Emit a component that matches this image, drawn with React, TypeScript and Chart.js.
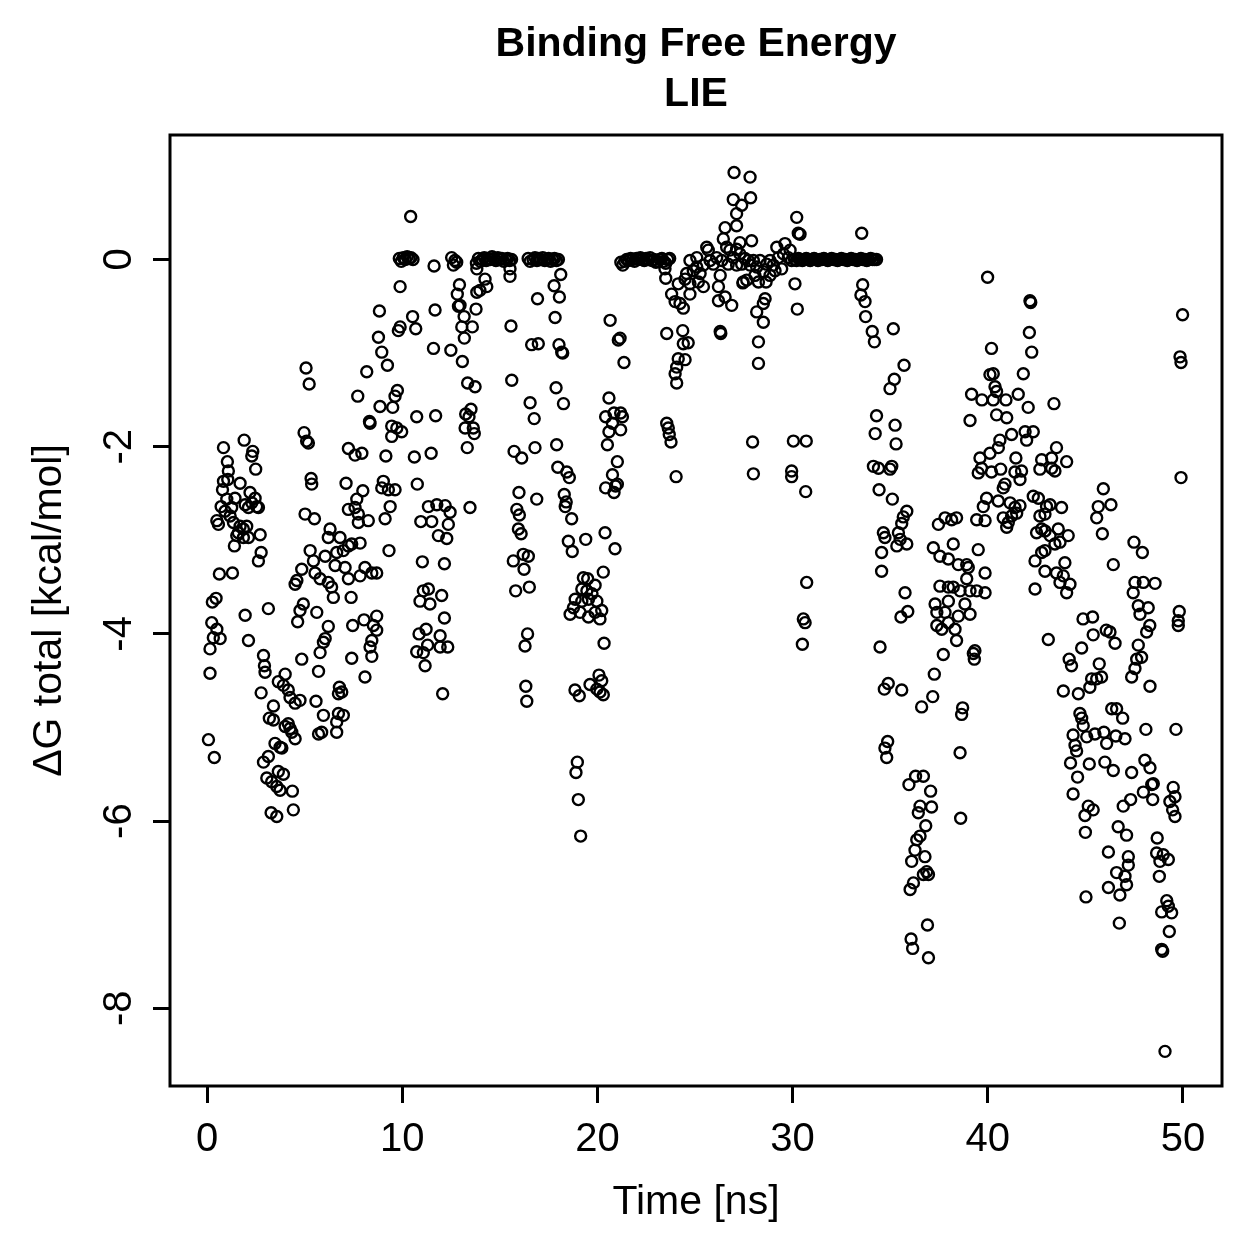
import React, { useEffect, useRef } from "react";
import { Chart, registerables } from "chart.js";

Chart.register(...registerables);

const FAMILY = "'Liberation Sans', Arial, Helvetica, sans-serif";

const titleLines = ["Binding Free Energy", "LIE"];
const xTitle = "Time [ns]";
const yTitle = "ΔG total [kcal/mol]";
const xTickValues = [0, 10, 20, 30, 40, 50];
const yTickValues = [0, -2, -4, -6, -8];
const yTickLabels = ["0", "-2", "-4", "-6", "-8"];

// [time (ns), ΔG total (kcal/mol)]
const seg0to10: [number, number][] = [
  [0.07, -5.13], [0.15, -4.42], [0.15, -4.16], [0.37, -5.32], [0.24, -3.88], [0.5, -3.95], [0.32, -4.04],
  [0.67, -4.05], [0.46, -3.62], [0.27, -3.66], [0.63, -3.36], [1.3, -3.35], [0.84, -2.01], [1.9, -1.93],
  [2.34, -2.05], [2.29, -2.1], [2.49, -2.24], [1.04, -2.16], [1.09, -2.26], [0.84, -2.37], [1.06, -2.35],
  [1.69, -2.39], [0.79, -2.46], [2.2, -2.49], [2.46, -2.55], [2.54, -2.64], [2.29, -2.6], [1.95, -2.62],
  [2.12, -2.65], [2.63, -2.65], [1.01, -2.56], [1.43, -2.55], [0.72, -2.64], [1.26, -2.65], [0.92, -2.69],
  [0.5, -2.79], [0.58, -2.83], [1.18, -2.74], [1.35, -2.81], [1.69, -2.85], [1.6, -2.92], [1.86, -2.88],
  [2.03, -2.85], [1.52, -2.95], [1.86, -2.97], [2.12, -2.97], [2.72, -2.94], [1.4, -3.06], [2.77, -3.13],
  [2.63, -3.22], [1.95, -3.8], [2.12, -4.07], [3.14, -3.73], [2.89, -4.23], [2.94, -4.34], [2.97, -4.41],
  [2.77, -4.63], [3.4, -4.77], [3.19, -4.9], [3.4, -4.92], [4.0, -4.43], [3.65, -4.51], [3.91, -4.55],
  [4.16, -4.6], [4.25, -4.68], [4.51, -4.74], [4.76, -4.71], [4.0, -4.99], [4.25, -5.01], [4.16, -4.96],
  [4.34, -5.05], [4.51, -5.12], [3.48, -5.17], [3.74, -5.21], [3.83, -5.22], [3.14, -5.31], [2.89, -5.37],
  [3.65, -5.47], [3.91, -5.5], [3.06, -5.54], [3.31, -5.58], [3.57, -5.63], [3.74, -5.67], [4.37, -5.68],
  [3.28, -5.91], [3.57, -5.95], [4.42, -5.88], [4.97, -1.85], [5.1, -1.94], [5.19, -1.96], [8.35, -1.75],
  [9.46, -1.78], [9.72, -1.8], [9.97, -1.84], [9.46, -1.89], [7.24, -2.02], [7.58, -2.09], [7.93, -2.07],
  [9.16, -2.1], [5.33, -2.34], [5.36, -2.4], [7.12, -2.39], [7.98, -2.47], [7.67, -2.56], [7.24, -2.67],
  [7.58, -2.65], [7.75, -2.72], [7.75, -2.81], [8.26, -2.79], [9.03, -2.37], [8.95, -2.44], [9.29, -2.46],
  [9.63, -2.46], [9.38, -2.64], [9.12, -2.77], [5.02, -2.72], [5.5, -2.77], [6.3, -2.88], [6.21, -2.97],
  [6.81, -2.97], [7.24, -3.06], [6.98, -3.11], [6.64, -3.13], [7.84, -3.03], [7.41, -3.04], [9.32, -3.11],
  [5.28, -3.11], [5.45, -3.22], [6.05, -3.17], [6.56, -3.27], [7.07, -3.29], [4.85, -3.31], [5.53, -3.35],
  [5.79, -3.41], [7.84, -3.38], [8.09, -3.29], [8.44, -3.35], [8.69, -3.35], [7.24, -3.41], [4.6, -3.43],
  [4.51, -3.47], [6.21, -3.45], [6.38, -3.5], [6.47, -3.61], [7.38, -3.61], [4.93, -3.68], [4.76, -3.75],
  [5.62, -3.77], [4.64, -3.87], [6.21, -3.92], [6.05, -4.05], [5.96, -4.09], [5.79, -4.2], [7.46, -3.91],
  [8.04, -3.85], [8.69, -3.81], [8.52, -3.91], [8.69, -3.96], [8.44, -4.07], [8.35, -4.14], [8.44, -4.24],
  [7.41, -4.26], [4.85, -4.27], [5.71, -4.4], [8.09, -4.46], [6.78, -4.57], [6.9, -4.62], [6.73, -4.64],
  [5.58, -4.72], [5.96, -4.87], [6.73, -4.85], [6.98, -4.87], [6.64, -4.94], [6.64, -5.05], [5.71, -5.07],
  [5.87, -5.05], [9.89, -0.29], [8.83, -0.55], [9.89, -0.72], [9.8, -0.76], [8.78, -0.83], [8.95, -0.99],
  [9.24, -1.13], [8.18, -1.2], [5.07, -1.16], [5.23, -1.33], [7.72, -1.46], [9.75, -1.4], [9.63, -1.46],
  [8.86, -1.57], [9.51, -1.58], [8.32, -1.73],
];

const seg10to20: [number, number][] = [
  [10.53, -0.61], [10.69, -0.74], [10.43, 0.46],
  [9.85, 0.01], [9.95, -0.02], [10.05, 0.02], [10.15, 0.0], [10.25, 0.03], [10.35, 0.01], [10.45, 0.02], [10.55, 0.0],
  [11.63, -0.07], [12.53, 0.02], [12.62, -0.06], [12.7, -0.01], [12.79, -0.03],
  [13.8, -0.04], [13.9, 0.01], [14.0, -0.02], [14.1, 0.0], [14.2, 0.02], [14.3, -0.01], [14.4, 0.01], [14.5, 0.0],
  [14.6, 0.03], [14.7, 0.01], [14.8, -0.01], [14.9, 0.02], [15.0, 0.0], [15.1, 0.01], [15.2, -0.02], [15.3, 0.0],
  [15.4, 0.01], [15.5, -0.01], [15.6, 0.0],
  [13.82, -0.1], [14.24, -0.21], [13.98, -0.33], [14.33, -0.29], [13.82, -0.35], [15.52, -0.1], [15.52, -0.18],
  [12.93, -0.27], [12.82, -0.37], [12.96, -0.49], [12.88, -0.5], [13.17, -0.61], [13.05, -0.72], [13.59, -0.72],
  [13.18, -0.84], [13.78, -0.53],
  [16.45, 0.01], [16.55, -0.02], [16.7, 0.0], [16.8, 0.02], [16.9, -0.01], [17.0, 0.01], [17.1, 0.0], [17.2, 0.02],
  [17.3, -0.01], [17.4, 0.0], [17.5, 0.01], [17.6, -0.02], [17.7, 0.0], [17.8, 0.01], [17.9, -0.01], [18.0, 0.0],
  [16.93, -0.42], [18.12, -0.16], [17.78, -0.28], [18.05, -0.4], [17.83, -0.62], [11.68, -0.54], [11.6, -0.95],
  [12.49, -0.97], [13.08, -1.09], [15.57, -0.71], [16.63, -0.91], [16.97, -0.9], [18.03, -0.91], [18.17, -0.99],
  [18.22, -1.0], [15.61, -1.29], [13.35, -1.32], [13.73, -1.36], [17.88, -1.37], [16.55, -1.53], [18.26, -1.54],
  [16.76, -1.7], [10.74, -1.68], [11.71, -1.67], [13.25, -1.65], [13.52, -1.6], [13.42, -1.68], [13.22, -1.8],
  [13.64, -1.8], [13.69, -1.86], [13.33, -2.01], [10.62, -2.11], [11.48, -2.07], [15.73, -2.05], [16.12, -2.12],
  [16.8, -2.01], [17.91, -1.98], [17.97, -2.22], [18.43, -2.27], [18.56, -2.33], [10.77, -2.4], [15.98, -2.49],
  [16.89, -2.56], [15.87, -2.67], [16.0, -2.73], [18.3, -2.51], [18.4, -2.59], [18.35, -2.64], [18.68, -2.77],
  [11.34, -2.64], [11.77, -2.62], [12.2, -2.63], [12.45, -2.7], [13.47, -2.65], [10.95, -2.8], [11.51, -2.8],
  [12.36, -2.83], [11.85, -2.95], [12.28, -2.98], [11.03, -3.23], [12.16, -3.25], [11.08, -3.54], [11.34, -3.52],
  [10.91, -3.65], [11.42, -3.68], [12.02, -3.59], [12.16, -3.83], [10.86, -4.0], [11.22, -3.95], [11.94, -4.02],
  [11.3, -4.12], [10.74, -4.19], [11.08, -4.2], [11.94, -4.14], [12.33, -4.14], [11.17, -4.34], [12.07, -4.64],
  [15.95, -2.88], [16.09, -2.93], [15.69, -3.22], [16.2, -3.15], [16.46, -3.17], [16.24, -3.31], [15.81, -3.54],
  [16.51, -3.5], [16.42, -4.0], [16.29, -4.13], [16.33, -4.56], [16.38, -4.72], [18.51, -3.01], [19.4, -2.99],
  [18.71, -3.12], [19.28, -3.4], [19.5, -3.41], [19.88, -3.48], [19.2, -3.52], [19.46, -3.54], [19.72, -3.57],
  [18.86, -3.63], [19.2, -3.65], [19.54, -3.63], [19.97, -3.65], [18.77, -3.72], [18.6, -3.79], [19.11, -3.77],
  [19.54, -3.82], [19.88, -3.77], [20.13, -3.84], [20.22, -3.75], [18.85, -4.6], [19.07, -4.66], [19.62, -4.54],
  [20.08, -4.44], [20.22, -4.5], [19.97, -4.59], [20.13, -4.62], [20.3, -4.65], [18.97, -5.37], [18.9, -5.48],
  [19.02, -5.77], [19.14, -6.16],
];

const seg20to30: [number, number][] = [
  [20.39, -2.92], [20.9, -3.09], [20.3, -3.34], [20.34, -4.1], [20.65, -0.65], [21.16, -0.84], [21.07, -0.86],
  [21.36, -1.1], [20.59, -1.48], [20.42, -1.68], [20.85, -1.64], [21.19, -1.64], [21.28, -1.68], [20.77, -1.75],
  [20.59, -1.84], [21.19, -1.82], [20.51, -1.98], [21.02, -2.16], [20.77, -2.3], [20.42, -2.44], [20.93, -2.42],
  [20.85, -2.49], [21.02, -2.4],
  [21.2, -0.03], [21.3, -0.06], [21.4, -0.02], [21.5, 0.0], [21.6, -0.01], [21.7, 0.01], [21.8, 0.0], [21.9, -0.02],
  [22.0, 0.01], [22.1, 0.0], [22.2, 0.02], [22.3, 0.0], [22.4, -0.01], [22.5, 0.01], [22.6, 0.0], [22.7, 0.02],
  [22.8, -0.01], [22.9, 0.0], [23.0, -0.03], [23.1, -0.02], [23.2, 0.0], [23.3, 0.01], [23.4, -0.02], [23.5, -0.04],
  [23.6, 0.0], [23.7, 0.01], [23.46, -0.1], [23.5, -0.2],
  [24.74, -0.01], [25.09, 0.02], [25.6, 0.13], [25.68, 0.1], [25.43, -0.06], [24.91, -0.12], [24.57, -0.15],
  [24.49, -0.21], [24.74, -0.26], [25.17, -0.24], [25.43, -0.29], [24.14, -0.26], [23.8, -0.37], [23.98, -0.45],
  [24.4, -0.52], [24.23, -0.47], [24.74, -0.37], [26.29, -0.17], [26.37, -0.01], [26.62, 0.13], [26.79, 0.1],
  [27.13, 0.11], [27.3, 0.06], [27.56, 0.01], [26.96, 0.02], [26.7, -0.05], [26.2, -0.29], [26.2, -0.44],
  [26.54, -0.4], [26.88, -0.49], [27.47, -0.24], [27.45, -0.25], [27.65, -0.22], [27.99, -0.01], [28.33, -0.01],
  [28.67, -0.05], [29.01, -0.06], [28.5, -0.13], [28.84, -0.17], [29.1, -0.12], [29.44, -0.1], [29.19, 0.13],
  [29.61, 0.17], [29.87, 0.1], [29.95, -0.01], [28.16, -0.56], [28.59, -0.42], [28.5, -0.47], [28.5, -0.67],
  [28.07, -0.17], [28.25, -0.24], [28.64, -0.24], [25.09, -0.08], [25.26, -0.15], [25.77, -0.01], [25.94, -0.05],
  [26.11, 0.02], [27.13, -0.06], [27.39, -0.05], [27.73, -0.01], [27.82, -0.06], [28.16, -0.08], [28.84, -0.01],
  [29.27, 0.02], [29.53, 0.06], [29.78, 0.02],
  [27.0, 0.93], [27.82, 0.88], [26.96, 0.64], [27.85, 0.66], [27.39, 0.58], [27.13, 0.49], [27.13, 0.36],
  [26.54, 0.34], [26.45, 0.22], [27.9, 0.2], [27.3, 0.18],
  [23.55, -0.79], [24.37, -0.76], [24.4, -0.9], [24.65, -0.89], [24.14, -1.06], [24.49, -1.07], [24.06, -1.15],
  [23.98, -1.22], [24.06, -1.32], [26.29, -0.77], [26.32, -0.79], [28.25, -0.88], [28.25, -1.11], [23.55, -1.75],
  [23.63, -1.8], [23.68, -1.87], [23.77, -1.95], [24.03, -2.32], [27.95, -1.95], [27.99, -2.29],
];

const seg30to40: [number, number][] = [
  [30.21, 0.45], [30.29, 0.28], [30.38, 0.27], [30.04, -1.94], [30.7, -1.94], [29.95, -2.26], [29.95, -2.32],
  [30.67, -2.48], [30.72, -3.45], [30.55, -3.84], [30.64, -3.88], [30.5, -4.11],
  [30.1, 0.0], [30.2, -0.01], [30.3, 0.01], [30.4, 0.0], [30.5, -0.01], [30.6, 0.0], [30.7, 0.01], [30.8, 0.0],
  [30.9, -0.01], [31.0, 0.0], [31.1, 0.01], [31.2, 0.0], [31.3, -0.01], [31.4, 0.0], [31.5, 0.0], [31.6, 0.01],
  [31.7, 0.0], [31.8, -0.01], [31.9, 0.0], [32.0, 0.01], [32.1, 0.0], [32.2, 0.0], [32.3, -0.01], [32.4, 0.0],
  [32.5, 0.01], [32.6, 0.0], [32.7, 0.0], [32.8, -0.01], [32.9, 0.0], [33.0, 0.01], [33.1, 0.0], [33.2, 0.0],
  [33.3, -0.01], [33.4, 0.0], [33.5, 0.01], [33.6, 0.0], [33.7, 0.0], [33.8, -0.01], [33.9, 0.0], [34.0, 0.01],
  [34.1, 0.0], [34.2, 0.0], [34.3, 0.0],
  [30.12, -0.26], [30.24, -0.53], [33.54, 0.28], [33.59, -0.27], [33.5, -0.38], [33.71, -0.45], [33.74, -0.61],
  [34.08, -0.77], [34.19, -0.88], [35.16, -0.74], [39.99, -0.19], [35.71, -1.13], [35.21, -1.28], [34.99, -1.38],
  [39.17, -1.44], [39.7, -1.5], [39.09, -1.72], [34.3, -1.67], [34.23, -1.86], [35.25, -1.77], [35.3, -1.97],
  [34.14, -2.21], [34.4, -2.23], [35.08, -2.21], [34.99, -2.24], [34.43, -2.46], [35.11, -2.56], [35.85, -2.69],
  [35.67, -2.75], [35.59, -2.82], [35.42, -2.92], [35.51, -2.99], [35.34, -3.06], [35.85, -3.04], [34.65, -2.92],
  [34.73, -2.97], [34.56, -3.13], [34.56, -3.33], [35.76, -3.56],
  [39.6, -2.12], [39.68, -2.23], [39.51, -2.28], [39.94, -2.55], [39.77, -2.64], [39.43, -2.78], [39.86, -2.79],
  [37.47, -2.83], [37.81, -2.76], [38.15, -2.78], [38.4, -2.76], [37.21, -3.08], [37.55, -3.17], [37.98, -3.2],
  [38.23, -3.04], [38.49, -3.26], [38.92, -3.26], [39.0, -3.29], [39.51, -3.1], [39.86, -3.35], [38.92, -3.41],
  [37.55, -3.49], [37.98, -3.5], [38.23, -3.5], [38.58, -3.54], [39.09, -3.54], [39.43, -3.54], [39.86, -3.56],
  [35.9, -3.76], [35.55, -3.82], [34.48, -4.14], [37.3, -3.68], [37.98, -3.65], [38.83, -3.68], [37.39, -3.77],
  [37.81, -3.77], [38.49, -3.81], [39.09, -3.79], [37.39, -3.91], [37.64, -3.95], [37.98, -3.88], [38.32, -3.95],
  [38.4, -4.07], [37.72, -4.22], [39.34, -4.18], [39.31, -4.27], [39.26, -4.21], [37.26, -4.43], [34.9, -4.53],
  [34.7, -4.59], [35.59, -4.6], [37.18, -4.67], [36.61, -4.78], [38.71, -4.79], [38.66, -4.86], [34.87, -5.15],
  [34.73, -5.22], [34.82, -5.32], [38.58, -5.27], [36.3, -5.52], [36.7, -5.52], [35.96, -5.61], [37.07, -5.68],
  [36.53, -5.84], [37.12, -5.85], [36.44, -5.91], [36.82, -6.05], [36.53, -6.16], [36.36, -6.2], [36.27, -6.31],
  [36.78, -6.38], [36.1, -6.43], [36.87, -6.54], [36.96, -6.57], [36.7, -6.57], [36.19, -6.66], [36.02, -6.73],
  [38.61, -5.97], [36.91, -7.11], [36.07, -7.26], [36.15, -7.36], [36.96, -7.46],
];

const seg40to50: [number, number][] = [
  [40.19, -0.95], [42.16, -0.44], [42.2, -0.46], [49.98, -0.59], [42.13, -0.78], [42.25, -0.99], [49.85, -1.04],
  [49.9, -1.1], [41.82, -1.22], [40.11, -1.23], [40.28, -1.22], [40.37, -1.36], [40.45, -1.41], [40.28, -1.5],
  [40.93, -1.5], [41.56, -1.44], [42.07, -1.58], [43.39, -1.54], [40.45, -1.66], [40.97, -1.69], [41.91, -1.84],
  [42.33, -1.84], [41.99, -1.93], [41.22, -1.87], [40.62, -1.93], [40.54, -2.01], [40.11, -2.07], [41.44, -2.12],
  [43.52, -2.01], [43.27, -2.12], [42.76, -2.14], [42.67, -2.24], [43.27, -2.23], [43.44, -2.26], [44.04, -2.16],
  [40.19, -2.27], [40.66, -2.24], [41.39, -2.27], [41.73, -2.26], [41.65, -2.35], [40.79, -2.44], [40.88, -2.4],
  [40.54, -2.58], [41.14, -2.6], [41.39, -2.65], [41.65, -2.63], [41.48, -2.71], [41.22, -2.74], [40.79, -2.76],
  [41.05, -2.81], [40.97, -2.86], [42.33, -2.53], [42.59, -2.55], [43.01, -2.64], [43.19, -2.62], [43.78, -2.65],
  [42.67, -2.74], [42.93, -2.72], [42.5, -2.92], [42.76, -2.88], [42.93, -2.9], [43.19, -2.95], [43.61, -2.88],
  [44.12, -2.95], [43.7, -3.02], [43.44, -3.04], [42.93, -3.11], [42.76, -3.13], [42.42, -3.22], [42.93, -3.33],
  [43.95, -3.24], [43.52, -3.35], [43.87, -3.38], [43.7, -3.45], [44.21, -3.47], [44.04, -3.56], [42.42, -3.52],
  [45.92, -2.45], [45.66, -2.64], [46.31, -2.62], [45.58, -2.76], [45.87, -2.93], [46.43, -3.26], [47.49, -3.02],
  [47.92, -3.13], [47.54, -3.45], [47.97, -3.45], [48.57, -3.46], [47.45, -3.56], [47.71, -3.7], [48.22, -3.72],
  [47.8, -3.79], [49.9, -2.33], [49.81, -3.76], [49.76, -3.86], [49.76, -3.91], [44.88, -3.84], [45.37, -3.82],
  [46.07, -3.96], [48.3, -3.91], [43.1, -4.06], [46.26, -3.98], [46.52, -4.1], [45.4, -4.01], [44.81, -4.15],
  [48.14, -3.98], [47.71, -4.12], [47.63, -4.27], [47.88, -4.25], [47.54, -4.37], [47.37, -4.46], [48.31, -4.56],
  [44.17, -4.27], [44.29, -4.34], [45.71, -4.32], [45.32, -4.48], [45.58, -4.48], [45.83, -4.46], [45.23, -4.57],
  [43.87, -4.61], [44.64, -4.64], [44.72, -4.85], [44.81, -4.9], [44.89, -4.98], [44.37, -5.08], [44.47, -5.19],
  [44.55, -5.25], [45.07, -5.1], [45.49, -5.07], [45.95, -5.05], [46.09, -5.17], [46.56, -5.09], [47.03, -5.12],
  [46.35, -4.8], [46.6, -4.8], [46.91, -4.9], [48.1, -5.02], [49.64, -5.02], [44.24, -5.38], [45.2, -5.39],
  [46.0, -5.37], [46.43, -5.46], [47.37, -5.48], [44.6, -5.53], [44.37, -5.71], [48.05, -5.35], [48.31, -5.43],
  [48.48, -5.6], [48.4, -5.61], [47.97, -5.69], [48.45, -5.77], [49.5, -5.64], [49.59, -5.74], [49.33, -5.79],
  [49.47, -5.88], [49.59, -5.95], [45.15, -5.84], [45.4, -5.88], [44.98, -5.94], [45.0, -6.12], [46.94, -5.84],
  [47.32, -5.77], [46.68, -6.06], [47.11, -6.15], [46.18, -6.33], [47.2, -6.38], [47.2, -6.47], [46.6, -6.55],
  [47.03, -6.59], [47.11, -6.68], [46.18, -6.71], [46.77, -6.79], [45.03, -6.81], [46.74, -7.09], [48.68, -6.18],
  [48.65, -6.34], [48.99, -6.36], [49.25, -6.41], [48.82, -6.43], [48.79, -6.59], [49.17, -6.85], [49.25, -6.91],
  [48.91, -6.97], [49.42, -6.98], [49.3, -7.18], [48.91, -7.37], [48.96, -7.39], [49.08, -8.46],
];

const rAxesPlugin = {
  id: "rAxes",
  afterDraw(chart: any) {
    const { ctx, chartArea, scales } = chart;
    const { left, top, right, bottom } = chartArea;
    ctx.save();
    ctx.strokeStyle = "#000";
    ctx.lineWidth = 3;
    ctx.strokeRect(left, top, right - left, bottom - top);
    ctx.fillStyle = "#000";
    // main title, centred over the plot region (R style)
    ctx.font = `bold 41px ${FAMILY}`;
    ctx.textAlign = "center";
    ctx.textBaseline = "middle";
    const cx = (left + right) / 2;
    titleLines.forEach((line, i) => {
      ctx.fillText(line, cx, 45 + i * 50);
    });
    // rotated y tick labels
    ctx.font = `40px ${FAMILY}`;
    ctx.textAlign = "center";
    ctx.textBaseline = "alphabetic";
    yTickValues.forEach((v, i) => {
      const py = scales.y.getPixelForValue(v);
      ctx.save();
      ctx.translate(left - 39, py);
      ctx.rotate(-Math.PI / 2);
      ctx.fillText(yTickLabels[i], 0, 0);
      ctx.restore();
    });
    ctx.restore();
  },
};

export default function App() {
  const canvasRef = useRef<HTMLCanvasElement | null>(null);

  useEffect(() => {
    if (!canvasRef.current) return;
    const points = [...seg0to10, ...seg10to20, ...seg20to30, ...seg30to40, ...seg40to50].map(([x, y]) => ({ x, y }));
    const gridOpts = {
      display: true,
      drawOnChartArea: false,
      drawTicks: true,
      tickLength: 17,
      color: "#000",
      lineWidth: 3,
    };
    const chart = new Chart(canvasRef.current, {
      type: "scatter",
      data: {
        datasets: [
          {
            data: points,
            pointStyle: "circle",
            pointRadius: 5.5,
            pointHoverRadius: 5.5,
            pointBorderWidth: 2.4,
            pointBorderColor: "#000",
            pointBackgroundColor: "rgba(0,0,0,0)",
            borderColor: "#000",
            backgroundColor: "rgba(0,0,0,0)",
            showLine: false,
          },
        ],
      },
      options: {
        animation: false,
        responsive: false,
        devicePixelRatio: 1,
        events: [],
        elements: {
          point: {
            radius: 5.5,
            hoverRadius: 5.5,
            borderWidth: 2.4,
            pointStyle: "circle",
            borderColor: "#000",
            backgroundColor: "rgba(0,0,0,0)",
          },
        },
        layout: { padding: { left: 0, right: 37, top: 135, bottom: 0 } },
        plugins: {
          legend: { display: false },
          tooltip: { enabled: false },
          title: { display: false },
        },
        scales: {
          x: {
            type: "linear",
            min: -1.9,
            max: 52,
            afterBuildTicks: (s: any) => {
              s.ticks = xTickValues.map((v) => ({ value: v }));
            },
            afterFit: (s: any) => {
              s.height = 173;
            },
            ticks: {
              color: "#000",
              font: { family: FAMILY, size: 40 },
              padding: 13,
              maxRotation: 0,
              minRotation: 0,
              autoSkip: false,
            },
            grid: gridOpts,
            border: { display: false },
            title: {
              display: true,
              text: xTitle,
              color: "#000",
              font: { family: FAMILY, size: 41, lineHeight: 1.2 },
              padding: { top: 0, bottom: 32 },
            },
          },
          y: {
            type: "linear",
            min: -8.83,
            max: 1.33,
            afterBuildTicks: (s: any) => {
              s.ticks = yTickValues.map((v) => ({ value: v }));
            },
            afterFit: (s: any) => {
              s.width = 170;
            },
            ticks: { display: false },
            grid: gridOpts,
            border: { display: false },
            title: {
              display: true,
              text: yTitle,
              color: "#000",
              font: { family: FAMILY, size: 41, lineHeight: 1.2 },
              padding: { top: 25, bottom: 0 },
            },
          },
        },
      },
      plugins: [rAxesPlugin],
    } as any);
    return () => chart.destroy();
  }, []);

  return (
    <div style={{ position: "absolute", left: 0, top: 0, width: 1259, height: 1259, background: "#fff" }}>
      <canvas ref={canvasRef} width={1259} height={1259} style={{ display: "block" }} />
    </div>
  );
}
